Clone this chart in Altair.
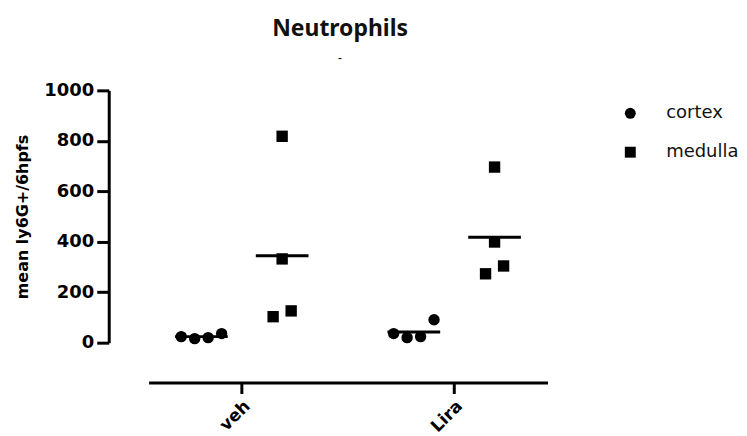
import altair as alt
import pandas as pd

groups = ["veh", "Lira"]
tissues = ["cortex", "medulla"]

cortex_veh = [24, 16, 20, 36]
medulla_veh = [818, 332, 103, 126]
cortex_lira = [36, 20, 24, 91]
medulla_lira = [696, 399, 273, 304]

# beeswarm slots (order of the points side by side inside a column)
slots_cortex = [-1.5, -0.5, 0.5, 1.5]
slots_medulla = [0, 0, -0.67, 0.67]

rows = []
for gi, g in enumerate(groups):
    for t, vals, slots in (
        ("cortex", cortex_veh if g == "veh" else cortex_lira, slots_cortex),
        ("medulla", medulla_veh if g == "veh" else medulla_lira, slots_medulla),
    ):
        for v, s in zip(vals, slots):
            rows.append({"group": g, "gidx": gi + 1, "tissue": t, "value": v, "slot": s})
df = pd.DataFrame(rows)

xscale = alt.Scale(domain=[0.5634, 2.4413], nice=False, zero=False)
yscale = alt.Scale(domain=[0, 1000], nice=False)

base = alt.Chart(df).transform_calculate(
    center="datum.gidx + (datum.tissue == 'cortex' ? -0.188 : 0.192)"
)

xaxis = alt.Axis(
    values=[1, 2],
    labelExpr="datum.value == 1 ? 'veh' : 'Lira'",
    labelAngle=-45,
    labelFont="DejaVu Sans",
    labelFontWeight="bold",
    labelFontSize=17,
    labelColor="black",
    labelPadding=4,
    tickSize=11,
    tickWidth=3,
    tickColor="black",
    domainWidth=3,
    domainColor="black",
    grid=False,
    offset=40,
    title=None,
)
yaxis = alt.Axis(
    values=[0, 200, 400, 600, 800, 1000],
    format="d",
    labelFont="DejaVu Sans",
    labelFontWeight="bold",
    labelFontSize=18,
    labelColor="black",
    labelPadding=3,
    tickSize=12,
    tickWidth=3,
    tickColor="black",
    domainWidth=3,
    domainColor="black",
    grid=False,
    offset=40,
    title="mean ly6G+/6hpfs",
    titleFont="DejaVu Sans",
    titleFontWeight="bold",
    titleFontSize=16,
    titleColor="black",
    titlePadding=13,
)

means = base.transform_aggregate(
    mean="mean(value)", groupby=["group", "gidx", "tissue", "center"]
).transform_calculate(
    xa="datum.center - 0.124", xb="datum.center + 0.124"
).mark_rule(color="black", strokeWidth=3).encode(
    x=alt.X("xa:Q", scale=xscale, axis=xaxis),
    x2="xb:Q",
    y=alt.Y("mean:Q", scale=yscale, axis=yaxis),
)

points = base.transform_calculate(
    xpos="datum.center + datum.slot * 0.0634"
).mark_point(filled=True, opacity=1, color="black", size=130).encode(
    x=alt.X("xpos:Q", scale=xscale, axis=xaxis),
    y=alt.Y("value:Q", scale=yscale, axis=yaxis),
    shape=alt.Shape(
        "tissue:N",
        scale=alt.Scale(domain=tissues, range=["circle", "square"]),
        legend=alt.Legend(
            title=None,
            orient="none",
            legendX=474,
            legendY=14,
            labelFont="DejaVu Sans",
            labelFontSize=18,
            labelColor="#111111",
            labelOffset=27,
            rowPadding=21,
            symbolSize=120,
            symbolFillColor="black",
            symbolStrokeWidth=0,
        ),
    ),
)

chart = alt.layer(means, points).properties(
    width=400,
    height=253,
    background="white",
    padding={"left": 6, "right": 0, "top": 9, "bottom": 5},
    title=alt.TitleParams(
        text="Neutrophils",
        subtitle="-",
        font="Noto Sans",
        fontSize=23,
        fontWeight="bold",
        color="#111111",
        subtitleFont="Liberation Sans",
        subtitleFontSize=12,
        subtitleColor="black",
        subtitlePadding=13,
        anchor="middle",
        dx=-8,
        offset=17,
    ),
).configure_view(stroke=None)

chart.save("out.html", embed_options={"renderer": "svg", "actions": False})
